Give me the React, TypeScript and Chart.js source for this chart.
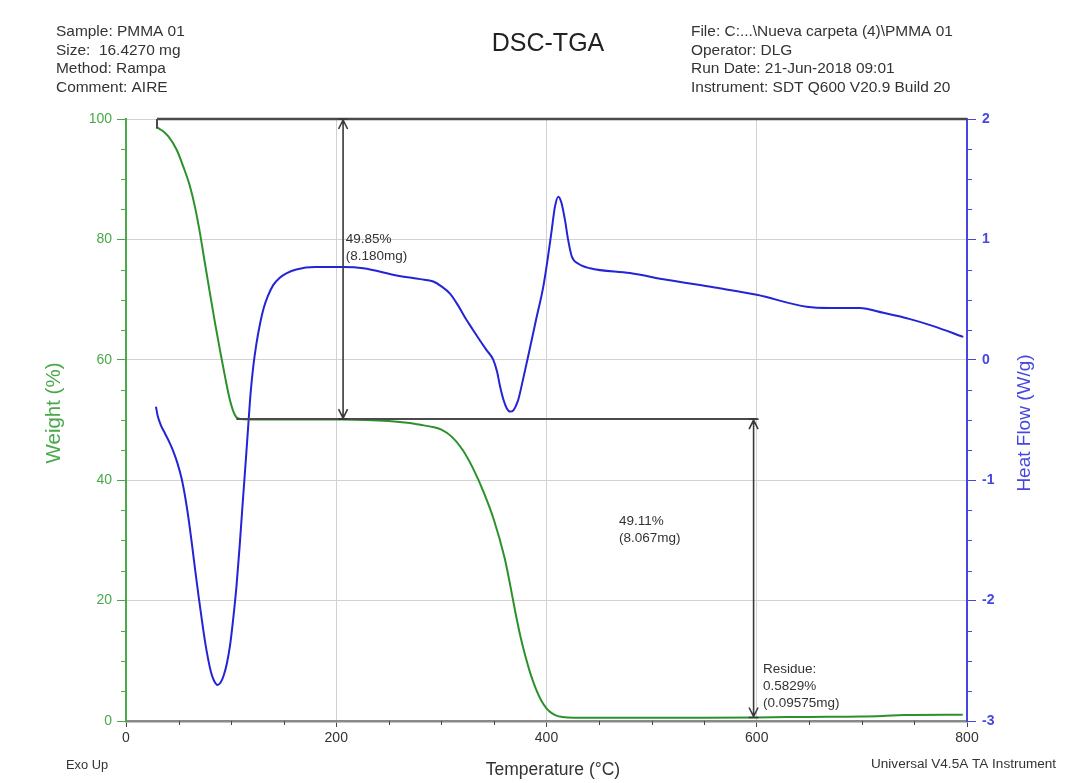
import React, { useEffect, useRef } from "react";
import { Chart, registerables } from "chart.js";

Chart.register(...registerables);

const FONT = '"Liberation Sans", Arial, Helvetica, sans-serif';

// ---------- data ----------
const tgaTemp = [29.6, 35, 40.3, 48.2, 54.5, 60.9, 65.6, 70.4, 75.1, 79.9, 84.7, 89.4, 94.2, 98.9, 103.7, 108.4, 118, 150, 206, 250, 270, 280, 290, 300, 310, 320, 330, 340, 350, 360, 365, 370, 375, 380, 385, 390, 395, 400, 405, 410, 415, 420, 450, 500, 550, 600, 650, 700, 720, 740, 796];
const tgaWeight = [98.6, 98.0, 97.1, 94.9, 92.1, 88.8, 85.4, 81.0, 76.0, 71.0, 66.1, 61.6, 57.2, 53.3, 50.8, 50.15, 50.1, 50.1, 50.1, 49.85, 49.5, 49.2, 48.9, 48.4, 47.2, 45.1, 42.0, 38.1, 33.4, 27.2, 23.0, 18.4, 14.2, 10.7, 7.7, 5.3, 3.4, 2.1, 1.3, 0.85, 0.68, 0.6, 0.55, 0.55, 0.56, 0.6, 0.68, 0.75, 0.85, 1.0, 1.05];

const dscTemp = [28.5, 30, 33, 37, 41, 45, 49, 53, 56.5, 60, 63, 66, 69, 72, 75, 78, 81, 84, 87, 90, 93, 96, 99, 102, 105, 108, 111, 114, 116.5, 118.5, 121, 124, 127.5, 131, 135, 140, 146, 153, 162, 180, 206.7, 225.7, 257.5, 280, 292.3, 300, 308.2, 316, 324, 330, 336.7, 343, 349.4, 353, 355.8, 359, 362, 365.3, 368.5, 371, 373.2, 378, 384.3, 390, 397, 401, 405, 408, 411.3, 414, 417.6, 420.5, 424, 430, 441.4, 479.4, 514, 560, 600, 647.5, 670, 698, 720.4, 745, 768, 796.5];
const dscHeatFlow = [-0.39, -0.46, -0.54, -0.61, -0.68, -0.76, -0.86, -0.99, -1.15, -1.35, -1.55, -1.76, -1.96, -2.15, -2.33, -2.48, -2.60, -2.67, -2.70, -2.68, -2.62, -2.52, -2.37, -2.15, -1.89, -1.56, -1.19, -0.83, -0.52, -0.28, -0.06, 0.13, 0.30, 0.43, 0.53, 0.62, 0.68, 0.72, 0.75, 0.77, 0.77, 0.76, 0.70, 0.67, 0.65, 0.61, 0.55, 0.45, 0.33, 0.25, 0.16, 0.08, 0.0, -0.10, -0.22, -0.33, -0.40, -0.43, -0.42, -0.38, -0.33, -0.15, 0.10, 0.33, 0.61, 0.83, 1.08, 1.27, 1.355, 1.31, 1.16, 1.0, 0.86, 0.80, 0.76, 0.72, 0.665, 0.60, 0.54, 0.44, 0.43, 0.43, 0.39, 0.34, 0.28, 0.19];

const xTickValues = [0, 200, 400, 600, 800];
const weightTickStep = 20;
const heatTickStep = 1;

// annotation values
const stepStartTemp = 29.5;
const step1Temp = 206.5;
const step2LineStart = 105;
const step2LineEnd = 600;
const step2Temp = 597;
const weightStart = 100;
const loss1 = 49.85;
const residue = 0.5829;
const label1 = ["49.85%", "(8.180mg)"];
const label2 = ["49.11%", "(8.067mg)"];
const label3 = ["Residue:", "0.5829%", "(0.09575mg)"];
const label1Pos = [209, 79.4];
const label2Pos = [469, 32.56];
const label3Pos = [606, 7.97];

const headerLeft = ["Sample: PMMA 01", "Size:  16.4270 mg", "Method: Rampa", "Comment: AIRE"];
const headerRight = ["File: C:...\\Nueva carpeta (4)\\PMMA 01", "Operator: DLG", "Run Date: 21-Jun-2018 09:01", "Instrument: SDT Q600 V20.9 Build 20"];

const GREEN = "#2b922b";
const GREEN_AXIS = "#49a949";
const BLUE = "#2424d6";
const BLUE_AXIS = "#4646e2";
const GRID = "#d2d2d2";
const ANNO = "#4a4a4a";
const TEXT = "#333333";

function txt(ctx: CanvasRenderingContext2D, s: string, x: number, y: number, size: number, color: string, align: CanvasTextAlign = "left", sx = 1) {
  ctx.save();
  ctx.font = `${size}px ${FONT}`;
  ctx.fillStyle = color;
  ctx.textAlign = align;
  ctx.textBaseline = "alphabetic";
  ctx.translate(x, y);
  ctx.scale(sx, 1);
  ctx.fillText(s, 0, 0);
  ctx.restore();
}

function vtxt(ctx: CanvasRenderingContext2D, s: string, x: number, y: number, size: number, color: string) {
  ctx.save();
  ctx.font = `${size}px ${FONT}`;
  ctx.fillStyle = color;
  ctx.textAlign = "center";
  ctx.textBaseline = "middle";
  ctx.translate(x, y);
  ctx.rotate(-Math.PI / 2);
  ctx.fillText(s, 0, 0);
  ctx.restore();
}

function vArrow(ctx: CanvasRenderingContext2D, x: number, yTop: number, yBot: number) {
  ctx.save();
  ctx.strokeStyle = "#3a3a3a";
  ctx.lineWidth = 1.6;
  ctx.beginPath();
  ctx.moveTo(x, yTop);
  ctx.lineTo(x, yBot);
  ctx.moveTo(x - 4.5, yTop + 10);
  ctx.lineTo(x, yTop + 1);
  ctx.lineTo(x + 4.5, yTop + 10);
  ctx.moveTo(x - 4.5, yBot - 10);
  ctx.lineTo(x, yBot - 1);
  ctx.lineTo(x + 4.5, yBot - 10);
  ctx.moveTo(x - 5, yTop);
  ctx.lineTo(x + 5, yTop);
  ctx.moveTo(x - 5, yBot);
  ctx.lineTo(x + 5, yBot);
  ctx.stroke();
  ctx.restore();
}

const decorPlugin = {
  id: "decor",
  afterDatasetsDraw(chart: any) {
    const ctx = chart.ctx as CanvasRenderingContext2D;
    const xs = chart.scales.x;
    const ys = chart.scales.y;
    const X = (v: number) => xs.getPixelForValue(v);
    const Y = (v: number) => ys.getPixelForValue(v);
    const mid = weightStart - loss1;

    ctx.save();
    ctx.strokeStyle = ANNO;
    ctx.lineWidth = 2.5;
    ctx.beginPath();
    ctx.moveTo(X(stepStartTemp), Y(weightStart));
    ctx.lineTo(X(800), Y(weightStart));
    ctx.stroke();
    ctx.lineWidth = 2;
    ctx.beginPath();
    ctx.moveTo(X(stepStartTemp), Y(weightStart));
    ctx.lineTo(X(stepStartTemp), Y(98.4));
    ctx.stroke();
    ctx.lineWidth = 2;
    ctx.beginPath();
    ctx.moveTo(X(step2LineStart), Y(mid));
    ctx.lineTo(X(step2LineEnd), Y(mid));
    ctx.stroke();
    ctx.restore();

    vArrow(ctx, X(step1Temp), Y(weightStart), Y(mid));
    vArrow(ctx, X(step2Temp), Y(mid), Y(residue));

    const drawLabel = (lines: string[], pos: number[]) => {
      lines.forEach((l, i) => txt(ctx, l, X(pos[0]), Y(pos[1]) + i * 17, 13.5, TEXT));
    };
    drawLabel(label1, label1Pos);
    drawLabel(label2, label2Pos);
    drawLabel(label3, label3Pos);
  },
  afterDraw(chart: any) {
    const ctx = chart.ctx as CanvasRenderingContext2D;
    const xs = chart.scales.x;
    const ys = chart.scales.y;
    const y2 = chart.scales.y2;
    const area = chart.chartArea;

    // minor ticks
    ctx.save();
    ctx.lineWidth = 1;
    ctx.strokeStyle = "#444";
    ctx.beginPath();
    for (let v = 50; v < 800; v += 50) {
      if (v % 200 === 0) continue;
      const px = Math.round(xs.getPixelForValue(v)) + 0.5;
      ctx.moveTo(px, area.bottom);
      ctx.lineTo(px, area.bottom + 4);
    }
    ctx.stroke();
    ctx.strokeStyle = GREEN_AXIS;
    ctx.beginPath();
    for (let v = 5; v < 100; v += 5) {
      if (v % 20 === 0) continue;
      const py = Math.round(ys.getPixelForValue(v)) + 0.5;
      ctx.moveTo(area.left - 5, py);
      ctx.lineTo(area.left, py);
    }
    ctx.stroke();
    ctx.strokeStyle = BLUE_AXIS;
    ctx.beginPath();
    for (let v = -2.75; v < 2; v += 0.25) {
      if (Math.abs(v - Math.round(v)) < 1e-6) continue;
      const py = Math.round(y2.getPixelForValue(v)) + 0.5;
      ctx.moveTo(area.right, py);
      ctx.lineTo(area.right + 5, py);
    }
    ctx.stroke();
    ctx.restore();

    // header
    const base = [36, 54.5, 73, 91.5];
    headerLeft.forEach((s, i) => txt(ctx, s, 56, base[i], 15, TEXT, "left", 1.03));
    headerRight.forEach((s, i) => txt(ctx, s, 691, base[i], 15, TEXT, "left", 1.03));
    txt(ctx, "DSC-TGA", 548, 51, 25, "#222", "center");

    // axis titles
    vtxt(ctx, "Weight (%)", 54, 413, 20.5, GREEN_AXIS);
    vtxt(ctx, "Heat Flow (W/g)", 1025, 423, 19, BLUE_AXIS);
    txt(ctx, "Temperature (\u00B0C)", 553, 775, 17.5, TEXT, "center");

    // footer
    txt(ctx, "Exo Up", 66, 769, 12, TEXT, "left", 1.07);
    txt(ctx, "Universal V4.5A TA Instrument", 871, 768, 12, TEXT, "left", 1.13);
  },
};

export default function App() {
  const ref = useRef<HTMLCanvasElement | null>(null);

  useEffect(() => {
    if (!ref.current) return;
    const tgaData = tgaTemp.map((t, i) => ({ x: t, y: tgaWeight[i] }));
    const dscData = dscTemp.map((t, i) => ({ x: t, y: dscHeatFlow[i] }));

    const chart = new Chart(ref.current, {
      type: "scatter",
      data: {
        datasets: [
          {
            label: "Weight",
            data: tgaData,
            yAxisID: "y",
            showLine: true,
            borderColor: GREEN,
            borderWidth: 2,
            pointRadius: 0,
            cubicInterpolationMode: "monotone",
          },
          {
            label: "Heat Flow",
            data: dscData,
            yAxisID: "y2",
            showLine: true,
            borderColor: BLUE,
            borderWidth: 2,
            pointRadius: 0,
            cubicInterpolationMode: "monotone",
          },
        ],
      },
      options: {
        responsive: false,
        animation: false,
        devicePixelRatio: 1,
        layout: { padding: { top: 119, left: 0, right: 0, bottom: 0 } },
        plugins: { legend: { display: false }, tooltip: { enabled: false }, title: { display: false } },
        scales: {
          x: {
            type: "linear",
            position: "bottom",
            min: 0,
            max: 800,
            afterBuildTicks: (s: any) => {
              s.ticks = xTickValues.map((v) => ({ value: v }));
            },
            ticks: { color: TEXT, font: { family: FONT, size: 14 }, padding: 3, maxRotation: 0, autoSkip: false },
            grid: { color: GRID, lineWidth: 1, tickLength: 6, tickColor: "#444" },
            border: { color: "#8a8a8a", width: 2.5 },
            afterFit: (s: any) => {
              s.height = 62;
            },
          },
          y: {
            type: "linear",
            position: "left",
            min: 0,
            max: 100,
            ticks: { stepSize: weightTickStep, color: GREEN_AXIS, font: { family: FONT, size: 14 }, padding: 5 },
            grid: { color: GRID, lineWidth: 1, tickLength: 9, tickColor: GREEN_AXIS },
            border: { color: GREEN_AXIS, width: 2 },
            afterFit: (s: any) => {
              s.width = 126;
            },
          },
          y2: {
            type: "linear",
            position: "right",
            min: -3,
            max: 2,
            ticks: { stepSize: heatTickStep, color: BLUE_AXIS, font: { family: FONT, size: 14, weight: "bold" }, padding: 6 },
            grid: { drawOnChartArea: false, tickLength: 9, tickColor: BLUE_AXIS },
            border: { color: BLUE_AXIS, width: 2 },
            afterFit: (s: any) => {
              s.width = 122;
            },
          },
        },
      },
      plugins: [decorPlugin],
    } as any);

    return () => chart.destroy();
  }, []);

  return (
    <div style={{ position: "fixed", left: 0, top: 0, width: 1089, height: 783, background: "#fff" }}>
      <canvas ref={ref} width={1089} height={783} style={{ display: "block" }} />
    </div>
  );
}
